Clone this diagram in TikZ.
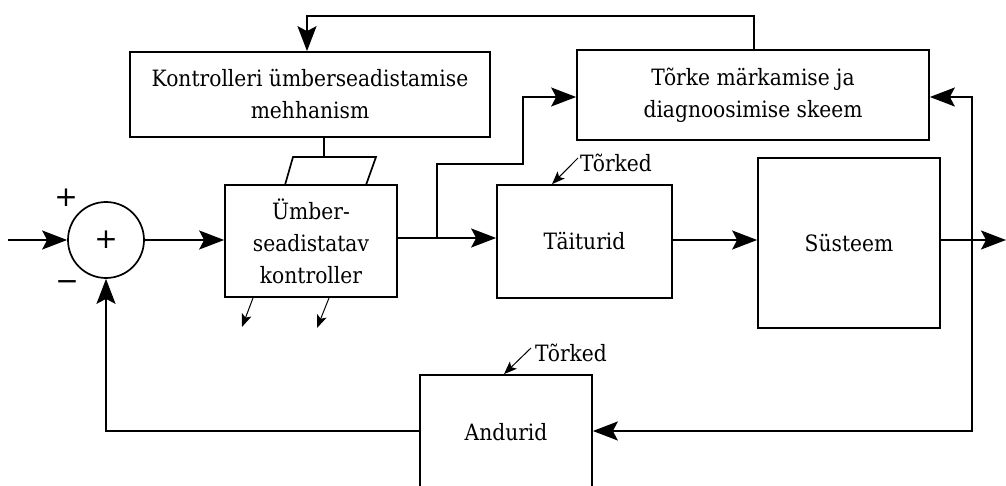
\documentclass[tikz,border=0pt]{standalone}
\usepackage{fontspec}
\setmainfont{DejaVu Serif Condensed}
\newfontfamily\symfont{DejaVu Sans}
\usetikzlibrary{arrows.meta}
\begin{document}
\begin{tikzpicture}[x=1pt,y=-1pt,
  every node/.style={font=\fontsize{22.5}{32}\selectfont},
  blk/.style={draw,line width=1.7pt,rectangle,inner sep=0pt,align=center},
  conn/.style={line width=1.7pt},
  arr/.style={conn,-{Stealth[length=25pt,width=19pt,inset=5pt]}},
  small/.style={line width=1pt,-{Stealth[length=13pt,width=10pt,inset=3pt]}},
  sym/.style={inner sep=0pt,font=\symfont\fontsize{28}{28}\selectfont},
  lbl/.style={inner sep=0pt}]
\useasboundingbox (0,0) rectangle (1006,486);
\clip (0,0) rectangle (1006,486);

\node[blk,minimum width=360pt,minimum height=85pt] (mech) at (310,94.5) {Kontrolleri ümberseadistamise\\mehhanism};
\node[blk,minimum width=352pt,minimum height=90pt] (diag) at (753,95) {Tõrke märkamise ja\\diagnoosimise skeem};
\node[blk,minimum width=172pt,minimum height=112pt] (ctrl) at (311,241) {Ümber-\\seadistatav\\kontroller};
\node[blk,minimum width=175pt,minimum height=113pt] (act) at (584.5,241.5) {Täiturid};
\node[blk,minimum width=182pt,minimum height=170pt] (sys) at (849,243) {Süsteem};
\node[blk,minimum width=172pt,minimum height=114pt] (sens) at (506,432) {Andurid};
\node[draw,circle,line width=1.7pt,minimum size=76pt,inner sep=0pt] (sum) at (106,240) {};
\node[sym] (sumplus) at (sum.center) {+};

\node[sym] (plus) at (66,198) {+};
\node[sym] (minus) at (67,286) {−};

% input and forward path
\coordinate (in) at (8,240);
\draw[arr] (in) -- (sum.west);
\draw[arr] (sum.east) -- (ctrl.west |- sum.east);
\coordinate (br) at (437,238);
\draw[conn] (ctrl.east |- br) -- (br);
\draw[arr] (br) -- (act.west |- br);
\draw[arr] (br) -- (437,164) -- (523,164) -- (523,97) -- (diag.west |- 0,97);
\draw[arr] (act.east |- 0,240) -- (sys.west |- 0,240);
\coordinate (out) at (1006,240);
\draw[arr] (sys.east |- out) -- (out);

% right feedback
\coordinate (j) at (972,240);
\draw[arr] (j) -- (972,97) -- (diag.east |- 0,97);
\draw[arr] (j) -- (972,431) -- (sens.east |- 0,431);

% sensor to sum
\draw[arr] (sens.west |- 0,431) -- (106,431) -- (sum.south);

% top feedback
\draw[arr] (754,50) -- (754,16) -- (307,16) -- (mech.north -| 307,0);

% mechanism to parallelogram
\draw[conn] (mech.south -| 324,0) -- (324,157);
\draw[conn] (285,185) -- (293,157) -- (376,157) -- (366,185);

% small arrows below controller
\draw[small] (253,298) -- (242,327);
\draw[small] (329,298) -- (317,328);

% faults
\node[lbl,anchor=base west] (t1) at (580,172) {Tõrked};
\draw[small] (578,158) -- (act.north -| 552,0);
\node[lbl,anchor=base west] (t2) at (535,361) {Tõrked};
\draw[small] (531,348) -- (sens.north -| 504,0);
\end{tikzpicture}
\end{document}
